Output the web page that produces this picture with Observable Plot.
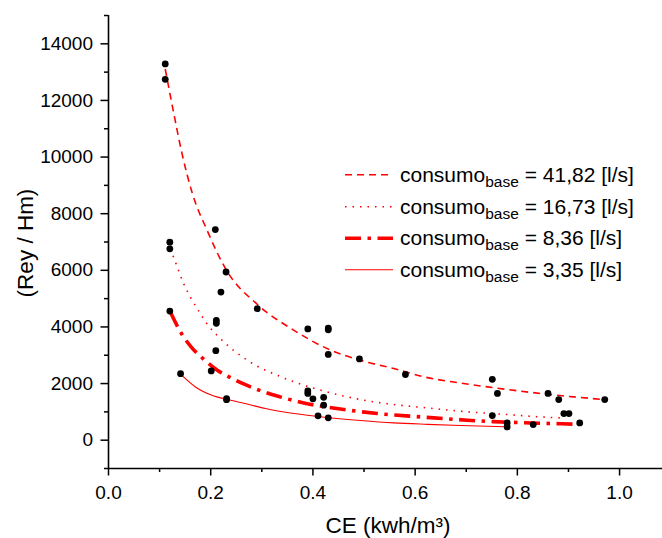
<!DOCTYPE html>
<html>
<head>
<meta charset="utf-8">
<script src="https://cdn.jsdelivr.net/npm/d3@7"></script>
<script src="https://cdn.jsdelivr.net/npm/@observablehq/plot@0.6"></script>
<style>
  html, body { margin: 0; padding: 0; background: #fff; }
  svg { display: block; }
</style>
</head>
<body>
<div id="chart"></div>
<script>
// ---- measured points ----
const dotCE  = [0.111,0.111,0.120,0.120,0.120,0.141,0.201,0.209,0.211,0.211,0.210,0.220,0.230,0.231,0.231,0.291,0.390,0.430,0.430,0.390,0.390,0.400,0.410,0.421,0.421,0.430,0.430,0.491,0.581,0.751,0.761,0.751,0.780,0.780,0.831,0.860,0.881,0.891,0.901,0.922,0.971];
const dotRey = [13290,12745,6995,6760,4560,2350,2445,7440,4230,4130,3160,5230,5940,1470,1430,4645,3930,3960,3900,1740,1650,1460,860,1515,1235,3030,790,2870,2320,2150,1650,870,610,470,553,1650,1435,940,940,610,1435];

// ---- fitted curves ----
const ce4182  = [0.111,0.128,0.144,0.164,0.193,0.231,0.291,0.363,0.428,0.493,0.558,0.624,0.689,0.780,0.845,0.910,0.970];
const rey4182 = [13110,11520,10110,8720,7410,5996,4800,3880,3234,2822,2530,2210,2020,1790,1650,1530,1435];

const ce1673  = [0.121,0.131,0.147,0.162,0.179,0.196,0.216,0.239,0.263,0.288,0.330,0.369,0.428,0.493,0.558,0.624,0.689,0.780,0.845,0.885];
const rey1673 = [6760,6290,5530,5000,4490,4030,3640,3256,2930,2645,2293,2020,1704,1435,1259,1140,1023,905,823,787];

const ce836  = [0.121,0.143,0.162,0.185,0.213,0.239,0.268,0.297,0.330,0.382,0.447,0.526,0.611,0.656,0.702,0.754,0.806,0.865,0.917];
const rey836 = [4525,3760,3290,2880,2470,2210,1960,1750,1560,1316,1118,940,822,765,705,655,620,589,564];

const ce335  = [0.141,0.170,0.206,0.231,0.275,0.307,0.363,0.428,0.493,0.558,0.624,0.689,0.780];
const rey335 = [2330,1880,1563,1446,1260,1118,940,800,694,610,560,520,475];

const legendValues = ["41,82", "16,73", "8,36", "3,35"];

const xMajor = [0, 0.2, 0.4, 0.6, 0.8, 1.0];
const xMinor = [0.1, 0.3, 0.5, 0.7, 0.9];
const yMajor = [0, 2000, 4000, 6000, 8000, 10000, 12000, 14000];
const yMinor = [-1000, 1000, 3000, 5000, 7000, 9000, 11000, 13000, 15000];

const zip = (xs, ys) => xs.map((x, i) => ({x, y: ys[i]}));
const dots = zip(dotCE, dotRey);

const styles = [
  {dash: "7,5", width: 1.6},
  {dash: "1.5,6", width: 1.6},
  {dash: "16,6.5,3.5,6.5", width: 3.6},
  {dash: null, width: 1.1}
];
const curves = [zip(ce4182, rey4182), zip(ce1673, rey1673), zip(ce836, rey836), zip(ce335, rey335)];

const RED = "#ff0000";
const FONT = "'Liberation Sans', Arial, Helvetica, sans-serif";

const lineMarks = curves.map((c, i) => Plot.line(c, {
  x: "x", y: "y", stroke: RED, strokeWidth: styles[i].width,
  strokeDasharray: styles[i].dash, curve: "monotone-x", strokeLinecap: "butt"
}));

const svg = Plot.plot({
  width: 662,
  height: 538,
  marginLeft: 108,
  marginRight: 0,
  marginTop: 15,
  marginBottom: 70,
  style: {fontFamily: FONT, fontSize: "19px", color: "#000", background: "#fff", overflow: "visible"},
  x: {domain: [0, 1.084]},
  y: {domain: [-1000, 15000]},
  marks: [
    Plot.axisX({ticks: xMajor, tickSize: 7.5, tickPadding: 9, tickFormat: d3.format(".1f"), label: null, strokeWidth: 1.5, fontSize: 19}),
    Plot.axisX({ticks: xMinor, tickSize: 4, tickFormat: () => "", label: null, strokeWidth: 1.5}),
    Plot.axisY({ticks: yMajor, tickSize: 7.5, tickPadding: 8, tickFormat: d => String(d), label: null, strokeWidth: 1.5, fontSize: 19}),
    Plot.axisY({ticks: yMinor, tickSize: 4, tickFormat: () => "", label: null, strokeWidth: 1.5}),
    Plot.ruleY([-1000], {stroke: "#000", strokeWidth: 1.6}),
    Plot.ruleX([0], {stroke: "#000", strokeWidth: 1.6}),
    ...lineMarks,
    Plot.dot(dots, {x: "x", y: "y", r: 3.4, fill: "#000", stroke: null})
  ]
});

const s = d3.select(svg);

// axis titles
s.append("text")
  .attr("x", 388).attr("y", 533)
  .attr("text-anchor", "middle")
  .attr("font-family", FONT).attr("font-size", 22.5).attr("fill", "#000")
  .text("CE (kwh/m³)");

s.append("text")
  .attr("transform", "translate(33,243) rotate(-90)")
  .attr("text-anchor", "middle")
  .attr("font-family", FONT).attr("font-size", 22.5).attr("fill", "#000")
  .text("(Rey / Hm)");

// legend
const baseY = [181.7, 213.7, 245.2, 276.7];
legendValues.forEach((v, i) => {
  const g = s.append("g");
  g.append("line")
    .attr("x1", 345).attr("x2", 393)
    .attr("y1", baseY[i] - 7).attr("y2", baseY[i] - 7)
    .attr("stroke", RED).attr("stroke-width", styles[i].width)
    .attr("stroke-dasharray", styles[i].dash);
  const t = g.append("text")
    .attr("x", 400).attr("y", baseY[i])
    .attr("text-anchor", "start")
    .attr("font-family", FONT).attr("font-size", 21).attr("fill", "#000")
    .style("white-space", "pre");
  t.append("tspan").text("consumo");
  t.append("tspan").attr("dy", 5).attr("font-size", 15.5).text("base");
  t.append("tspan").attr("dy", -5).text(" = " + v + " [l/s]");
});

document.getElementById("chart").appendChild(svg);
</script>
</body>
</html>
